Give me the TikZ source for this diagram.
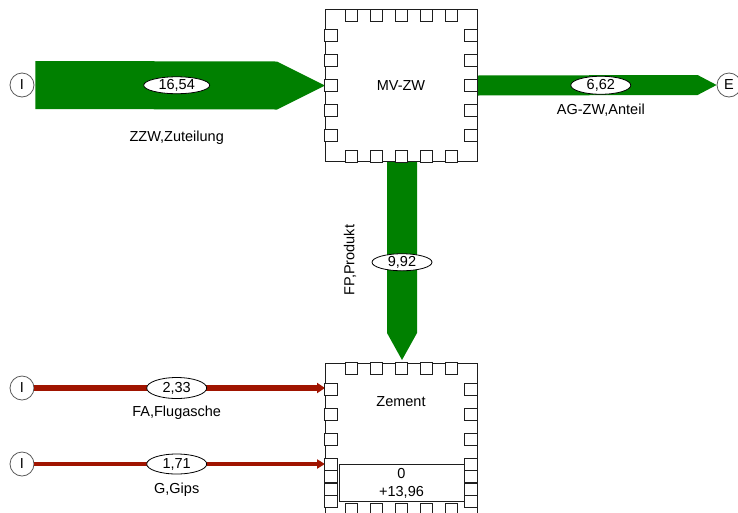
\documentclass[tikz,border=0pt]{standalone}
\usepackage{fontspec}
\setmainfont{Liberation Sans}
\usepackage{xcolor}
\definecolor{flowGreen}{RGB}{0,128,0}
\definecolor{flowRed}{RGB}{160,20,0}
\definecolor{boxLine}{RGB}{30,30,30}
\definecolor{endLine}{RGB}{90,90,90}
\usepackage{tikz}
\usetikzlibrary{arrows.meta,shapes.geometric,positioning,calc}
\newcommand{\diafont}{\fontsize{14.5}{18}\selectfont}
\tikzstyle{procbox}=[rectangle, draw=boxLine, fill=white, line width=0.8pt, minimum width=152pt, minimum height=152pt, inner sep=0pt, font=\diafont]
\tikzstyle{port}=[draw=boxLine, fill=white, line width=0.8pt]
\tikzstyle{endpoint}=[circle, draw=endLine, fill=white, line width=0.8pt, minimum size=24pt, inner sep=0pt, font=\diafont]
\tikzstyle{valuelabel}=[ellipse, draw=black, fill=white, line width=0.8pt, inner sep=0pt, minimum width=60pt, minimum height=18pt, font=\diafont]
\tikzstyle{flowlabel}=[inner sep=0pt, font=\diafont]
\tikzstyle{redflow}=[draw=flowRed, -{Triangle[length=8pt,width=10pt]}]

\begin{document}
\begin{tikzpicture}[x=1pt, y=-1pt]
    \useasboundingbox[fill=white] (0,0) rectangle (738,512);

    % --- quellen / senken ---
    \node[endpoint] (inZZW) at (22,85)  {I};
    \node[endpoint] (inFA)  at (22,388) {I};
    \node[endpoint] (inG)   at (22,464) {I};
    \node[endpoint] (outAG) at (729,85) {E};

    % --- prozesse (nur lage) ---
    \coordinate (mvC) at (401,85.5);
    \coordinate (zeC) at (401,439);
    \path (mvC) +(-76,0) coordinate (mvW) +(76,0) coordinate (mvE) +(0,76) coordinate (mvS);
    \path (zeC) +(-76,0) coordinate (zeW) +(0,-76) coordinate (zeN);

    % --- ZZW, Zuteilung ---
    \fill[flowGreen] ($(inZZW.east)+(1,-24)$) -- ($(mvW)+(-48,-24)$) -- (mvW)
        -- ($(mvW)+(-48,24)$) -- ($(inZZW.east)+(1,24)$) -- cycle;
    \path (inZZW.east) -- (mvW) node[valuelabel, midway, xshift=-3pt, minimum width=66pt, minimum height=16pt] (vZZW) {16,54};
    \node[flowlabel] (lZZW) at ($(vZZW)+(0,52)$) {ZZW,Zuteilung};

    % --- AG-ZW, Anteil ---
    \fill[flowGreen] ($(mvE)+(0,-10)$) -- ($(outAG.west)+(-19,-10)$) -- (outAG.west)
        -- ($(outAG.west)+(-19,10)$) -- ($(mvE)+(0,10)$) -- cycle;
    \path (mvE) -- (outAG.west) node[valuelabel, midway, xshift=4pt] (vAG) {6,62};
    \node[flowlabel] (lAG) at ($(vAG)+(0,25)$) {AG-ZW,Anteil};

    % --- FP, Produkt ---
    \fill[flowGreen] ($(mvS)+(-14,0)$) -- ($(mvS)+(16,0)$) -- ($(zeN)+(16,-30)$) -- ($(zeN)+(1,-3)$)
        -- ($(zeN)+(-14,-30)$) -- cycle;
    \path (mvS) -- (zeN) node[valuelabel, midway, xshift=1pt, minimum height=17pt] (vFP) {9,92};
    \node[flowlabel, rotate=90] (lFP) at ($(vFP)+(-52,-2)$) {FP,Produkt};

    % --- FA, Flugasche / G, Gips ---
    \draw[redflow, line width=6pt] (inFA.east) -- (inFA -| zeW)
        node[valuelabel, midway, xshift=-3pt, minimum height=21pt] (vFA) {2,33};
    \node[flowlabel] (lFA) at ($(vFA)+(0,25)$) {FA,Flugasche};
    \draw[redflow, line width=3.5pt, -{Triangle[length=8pt,width=9pt]}] (inG.east) -- (inG -| zeW)
        node[valuelabel, midway, xshift=-3pt, minimum height=20pt] (vG) {1,71};
    \node[flowlabel] (lG) at ($(vG)+(0,26)$) {G,Gips};

    % --- prozessboxen mit anschluessen ---
    \node[procbox] (mv) at (mvC) {MV-ZW};
    \node[procbox] (ze) at (zeC) {};
    \node[flowlabel] (zeName) at ($(ze.north)+(0,39)$) {Zement};
    \foreach \b in {mv,ze} {
      \foreach \d in {-50,-25,0,25,50} {
        \draw[port] ($(\b.north)+(\d-6,0)$) rectangle ++(12,12);
        \draw[port] ($(\b.south)+(\d-6,-12)$) rectangle ++(12,12);
        \draw[port] ($(\b.west)+(0,\d-6)$) rectangle ++(13,12);
        \draw[port] ($(\b.east)+(-13,\d-6)$) rectangle ++(13,12);
      }
    }
    \foreach \d in {37.5,62.5} {
      \draw[port] ($(ze.west)+(0,\d-6)$) rectangle ++(13,12);
      \draw[port] ($(ze.east)+(-13,\d-6)$) rectangle ++(13,12);
    }
    \node[draw=boxLine, fill=white, line width=0.8pt, minimum width=125pt, minimum height=37pt, inner sep=0pt,
          align=center, font=\diafont] (zeVal) at ($(ze.south)+(0.5,-32.5)$) {0\\+13,96};
  \end{tikzpicture}
\end{document}
